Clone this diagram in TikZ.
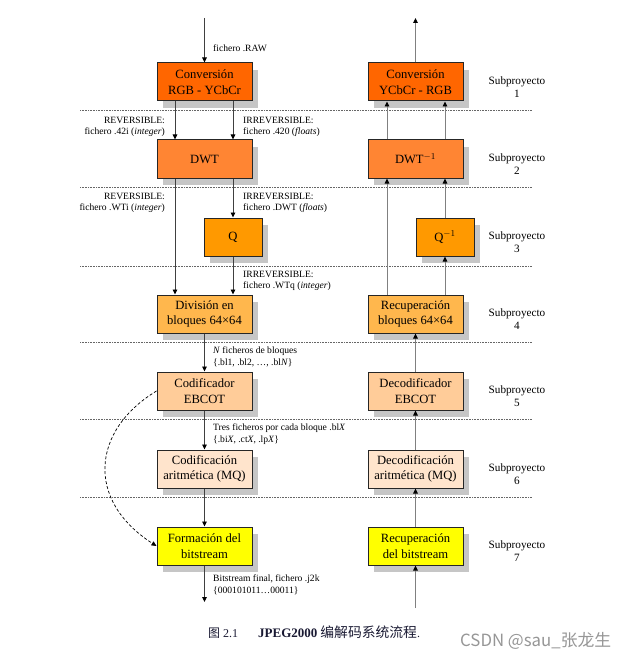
\documentclass[tikz,border=0pt]{standalone}
\usepackage{fontspec}
\setmainfont{Liberation Serif}
\newfontfamily\cjk{Noto Sans CJK SC}
\usetikzlibrary{arrows.meta,shadows}
\definecolor{c1}{RGB}{255,102,0}
\definecolor{c2}{RGB}{255,133,51}
\definecolor{c3}{RGB}{255,153,0}
\definecolor{c4}{RGB}{255,183,77}
\definecolor{c5}{RGB}{255,204,153}
\definecolor{c6}{RGB}{255,228,204}
\definecolor{c7}{RGB}{255,255,0}
\definecolor{capcol}{RGB}{25,25,50}
\definecolor{wmcol}{RGB}{150,150,150}
\begin{document}
\begin{tikzpicture}[x=1pt,y=-1pt,
  box/.style={draw=black!85, line width=1pt, minimum width=95pt, minimum height=38pt,
    inner sep=0pt, align=center, font=\fontsize{12.6}{15.5}\selectfont,
    drop shadow={shadow xshift=6pt, shadow yshift=-7pt, fill=gray!45, draw=none, opacity=1}},
  qbox/.style={box, minimum width=58pt},
  lab/.style={inner sep=0pt, font=\fontsize{9.6}{11.5}\selectfont},
  sub/.style={inner sep=0pt, align=center, font=\fontsize{11.2}{13}\selectfont},
  arr/.style={draw=black!75, line width=0.9pt, -{Triangle[length=5pt,width=4.5pt,color=black]}},
  rarr/.style={arr, draw=black!50},
  sep/.style={draw=black!60, densely dotted, line width=0.6pt},
  dcurve/.style={draw=black, densely dashed, line width=0.7pt, -{Triangle[length=5pt,width=4.5pt]}}
]
\useasboundingbox (0,0) rectangle (642,663);

% separators
\foreach \yy in {110,187,266,342,419,497}
  \draw[sep] (80,\yy) -- (532,\yy);

% left column
\node[box, fill=c1] (l1) at (204.5,82) {Conversión\\RGB - YCbCr};
\node[box, fill=c2] (l2) at (204.5,159) {DWT};
\node[qbox, fill=c3] (lq) at (233,237) {Q};
\node[box, fill=c4] (l4) at (204.5,314) {División en\\bloques 64×64};
\node[box, fill=c5] (l5) at (204.5,391) {Codificador\\EBCOT};
\node[box, fill=c6] (l6) at (204.5,469) {Codificación\\aritmética (MQ)};
\node[box, fill=c7] (l7) at (204.5,546) {Formación del\\bitstream};

% right column
\node[box, fill=c1] (r1) at (415.5,82) {Conversión\\YCbCr - RGB};
\node[box, fill=c2] (r2) at (415.5,159) {DWT$^{-1}$};
\node[qbox, fill=c3] (rq) at (445,237) {Q$^{-1}$};
\node[box, fill=c4] (r4) at (415.5,314) {Recuperación\\bloques 64×64};
\node[box, fill=c5] (r5) at (415.5,391) {Decodificador\\EBCOT};
\node[box, fill=c6] (r6) at (415.5,469) {Decodificación\\aritmética (MQ)};
\node[box, fill=c7] (r7) at (415.5,546) {Recuperación\\del bitstream};

% subproyecto labels
\foreach \n/\yy in {1/87,2/164,3/242,4/319,5/396,6/474,7/551}
  \node[sub] (s\n) at (517,\yy) {Subproyecto\\\n};

% left connectors
\coordinate (ltop) at (204.5,18);
\coordinate (lbot) at (204.5,602);
\draw[arr] (ltop) -- (l1);
\draw[arr] ([xshift=-29.5pt]l1.south) -- ([xshift=-29.5pt]l2.north);
\draw[arr] ([xshift=28.5pt]l1.south) -- ([xshift=28.5pt]l2.north);
\draw[arr] ([xshift=28.5pt]l2.south) -- (lq.north);
\draw[arr] ([xshift=-29.5pt]l2.south) -- ([xshift=-29.5pt]l4.north);
\draw[arr] (lq.south) -- ([xshift=28.5pt]l4.north);
\draw[arr] (l4) -- (l5);
\draw[arr] (l5) -- (l6);
\draw[arr] (l6) -- (l7);
\draw[arr] (l7) -- (lbot);
\draw[dcurve] (l5.west) .. controls (92,430) and (85,500) .. (l7.west);

% right connectors
\coordinate (rtop) at (415.5,18);
\coordinate (rbot) at (415.5,608);
\draw[rarr] (r1) -- (rtop);
\draw[rarr] ([xshift=-28.5pt]r2.north) -- ([xshift=-28.5pt]r1.south);
\draw[rarr] ([xshift=29.5pt]r2.north) -- ([xshift=29.5pt]r1.south);
\draw[rarr] (rq.north) -- ([xshift=29.5pt]r2.south);
\draw[rarr] ([xshift=-28.5pt]r4.north) -- ([xshift=-28.5pt]r2.south);
\draw[rarr] ([xshift=29.5pt]r4.north) -- (rq.south);
\draw[rarr] (r5) -- (r4);
\draw[rarr] (r6) -- (r5);
\draw[rarr] (r7) -- (r6);
\draw[rarr] (rbot) -- (r7);

% connector labels
\node[lab, anchor=west] (t0) at (213,48) {fichero .RAW};
\node[lab, anchor=east, align=right] (t1) at (165,127) {REVERSIBLE:\\fichero .42i (\textit{integer})};
\node[lab, anchor=west, align=left] (t2) at (243,127) {IRREVERSIBLE:\\fichero .420 (\textit{floats})};
\node[lab, anchor=east, align=right] (t3) at (165,203) {REVERSIBLE:\\fichero .WTi (\textit{integer})};
\node[lab, anchor=west, align=left] (t4) at (243,203) {IRREVERSIBLE:\\fichero .DWT (\textit{floats})};
\node[lab, anchor=west, align=left] (t5) at (243,281) {IRREVERSIBLE:\\fichero .WTq (\textit{integer})};
\node[lab, anchor=west, align=left] (t6) at (213,357) {\textit{N} ficheros de bloques\\\{.bl1, .bl2, …, .bl\textit{N}\}};
\node[lab, anchor=west, align=left] (t7) at (213,434) {Tres ficheros por cada bloque .bl\textit{X}\\\{.bi\textit{X}, .ct\textit{X}, .lp\textit{X}\}};
\node[lab, anchor=west, align=left] (t8) at (213,585) {Bitstream final, fichero .j2k\\\{000101011…00011\}};

% caption
\node[anchor=west, inner sep=0pt, text=capcol, font=\fontsize{12}{14}\selectfont] (cap) at (208,632)
  {{\cjk 图} 2.1\hspace{20pt}{\fontsize{13}{14}\selectfont\textbf{JPEG2000}} {\cjk\fontsize{13.8}{14}\selectfont 编解码系统流程}.};
\node[anchor=west, inner sep=0pt, text=wmcol, font=\cjk\fontsize{16.8}{18}\selectfont] (wm) at (460,641)
  {CSDN @sau\_张龙生};
\end{tikzpicture}
\end{document}
